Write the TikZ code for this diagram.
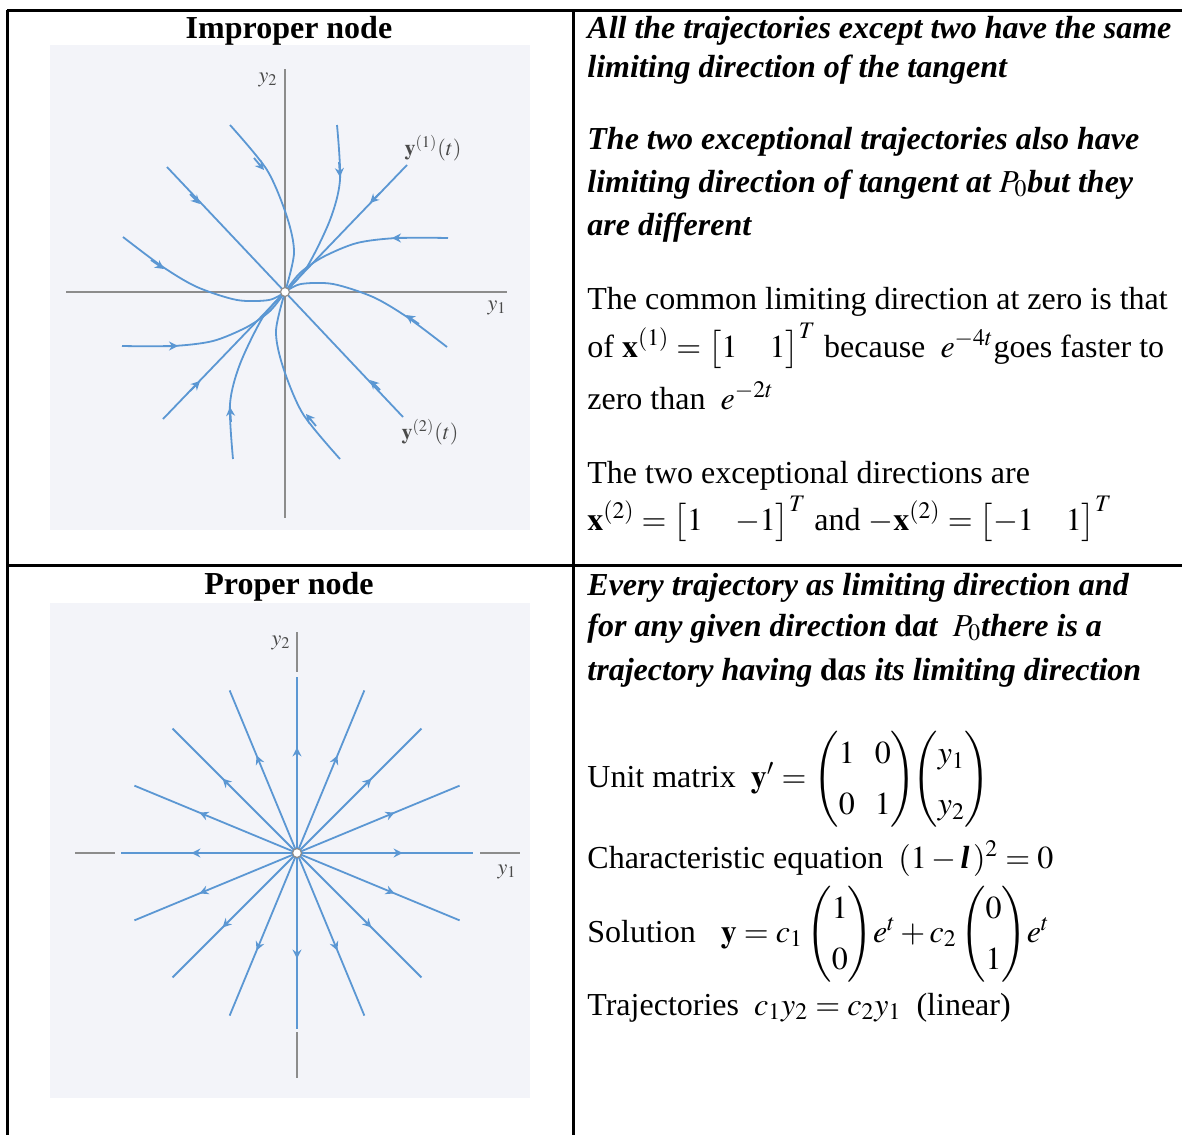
\documentclass[tikz,border=0pt]{standalone}
\usepackage{amsmath}
\usepackage{mathptmx}
\usepackage{fontspec}
\setmainfont{Liberation Serif}
\usetikzlibrary{arrows.meta, decorations.markings}
\definecolor{scanblue}{HTML}{5B97D3}
\definecolor{scanbg}{HTML}{F3F4F9}
\definecolor{axisgray}{HTML}{8C8C8C}
\definecolor{labelgray}{HTML}{4A4A4A}

\begin{document}
\begin{tikzpicture}[
    x=0.5pt, y=-0.5pt,
    >=Stealth,
    tableline/.style={
        draw=black,
        line width=1.5pt
    },
    scan/.style={
        fill=scanbg,
        draw=none
    },
    axis/.style={
        draw=axisgray,
        line width=0.8pt
    },
    traj/.style={
        draw=scanblue,
        line width=0.9pt
    },
    tip/.style={
        draw=scanblue,
        line width=0.9pt,
        -{Stealth[length=4.5pt,width=4.5pt,inset=1.5pt]}
    },
    ray/.style={
        traj,
        postaction={decorate},
        decoration={markings,
            mark=at position 0.6 with {\arrow[scanblue]{Stealth[length=4.5pt,width=4.5pt,inset=1.5pt]}}}
    },
    fixpt/.style={
        circle,
        draw=axisgray,
        fill=white,
        inner sep=0pt,
        minimum size=4.5pt,
        line width=0.6pt
    },
    axislabel/.style={
        text=labelgray,
        font=\fontsize{11}{13}\selectfont
    },
    header/.style={
        font=\fontsize{16}{19}\selectfont\bfseries,
        inner sep=0pt,
        anchor=base
    },
    claim/.style={
        font=\fontsize{16}{19}\selectfont\bfseries\itshape,
        inner sep=0pt,
        anchor=base west
    },
    body/.style={
        font=\fontsize{16}{19}\selectfont,
        inner sep=0pt,
        anchor=base west
    }
]
\useasboundingbox (0,0) rectangle (1182,1135);

% Table rules
\draw[tableline] (7,10) -- (1182,10);
\draw[tableline] (7,565) -- (1182,565);
\draw[tableline] (7,10) -- (7,1135);
\draw[tableline] (573,10) -- (573,1135);

% Headers
\node[header] (improper) at (289,38) {Improper node};
\node[header] (proper) at (289,594) {Proper node};

% Improper node portrait
\fill[scan] (50,45) rectangle (530,530);
\draw[axis] (66,292) -- (507,292);
\draw[axis] (285,69) -- (285,518);
\foreach \r in {0,180} {
  \begin{scope}[shift={(285,292)}, rotate=\r]
    \draw[traj] plot[smooth] coordinates {(-55,-167) (-18,-122) (2,-75) (9,-39) (0,0)};
    \draw[traj] plot[smooth] coordinates {(52,-167) (55,-112) (45,-72) (22,-25) (0,0)};
    \draw[traj] (122,-127) -- (0,0);
    \draw[traj] plot[smooth] coordinates {(163,-54) (112,-54) (72,-49) (38,-35) (15,-19) (0,0)};
    \draw[traj] plot[smooth] coordinates {(162,55) (122,25) (88,5) (48,-8) (16,-8) (0,0)};
    \draw[traj] (118,125) -- (0,0);
    % arrowheads
    \draw[tip] (-31,-134) -- (-21,-122);
    \draw[tip] (54,-130) -- (55,-115);
    \draw[tip] (95,-99) -- (85,-89);
    \draw[tip] (122,-54) -- (107,-54);
    \draw[tip] (134,32) -- (121,23);
    \draw[tip] (95,98) -- (85,88);
  \end{scope}
}
\node[fixpt] (P1) at (285,292) {};
\node[axislabel] (y2a) at (268,80) {$y_2$};
\node[axislabel] (y1a) at (497,308) {$y_1$};
\node[axislabel] (sol1) at (433,148) {$\mathbf{y}^{(1)}(t)$};
\node[axislabel] (sol2) at (430,432) {$\mathbf{y}^{(2)}(t)$};

% Proper node portrait
\fill[scan] (50,603) rectangle (530,1098);
\draw[axis] (75,853) -- (115,853);
\draw[axis] (480,853) -- (520,853);
\draw[axis] (297,632) -- (297,672);
\draw[axis] (297,1032) -- (297,1078);
\foreach \a in {0,22.5,...,337.5}
  \draw[ray] (297,853) -- ++(\a:176);
\node[fixpt] (P2) at (297,853) {};
\node[axislabel] (y2b) at (281,643) {$y_2$};
\node[axislabel] (y1b) at (507,872) {$y_1$};

% Improper node text
\node[claim] (t1) at (587,39) {All the trajectories except two have the same};
\node[claim] (t2) at (587,77) {limiting direction of the tangent};
\node[claim] (t3) at (587,149) {The two exceptional trajectories also have};
\node[claim] (t4) at (587,192) {limiting direction of tangent at $P_0$but they};
\node[claim] (t5) at (587,235) {are different};
\node[body] (t6) at (587,309) {The common limiting direction at zero is that};
\node[body] (t7) at (587,357) {of $\mathbf{x}^{(1)}=\bigl[1\quad 1\bigr]^T$ because $\;e^{-4t}$goes faster to};
\node[body] (t8) at (587,409) {zero than $\;e^{-2t}$};
\node[body] (t9) at (587,483) {The two exceptional directions are};
\node[body] (t10) at (587,530) {$\mathbf{x}^{(2)}=\bigl[1\quad {-1}\bigr]^T$ and $-\mathbf{x}^{(2)}=\bigl[{-1}\quad 1\bigr]^T$};

% Proper node text
\node[claim] (b1) at (587,595) {Every trajectory as limiting direction and};
\node[claim] (b2) at (587,636) {for any given direction $\mathbf{d}$at $\;P_0$there is a};
\node[claim] (b3) at (587,680) {trajectory having $\mathbf{d}$as its limiting direction};
\node[body] (b4) at (587,787) {Unit matrix $\;\mathbf{y}'=\renewcommand{\arraystretch}{1.35}\begin{pmatrix}1&0\\0&1\end{pmatrix}\!\!\begin{pmatrix}y_1\\y_2\end{pmatrix}$};
\node[body] (b5) at (587,868) {Characteristic equation $\;(1-\text{\bfseries\itshape l}\,)^2=0$};
\node[body] (b6) at (587,942) {Solution \; $\mathbf{y}=c_1\renewcommand{\arraystretch}{1.35}\begin{pmatrix}1\\0\end{pmatrix}\!e^t+c_2\begin{pmatrix}0\\1\end{pmatrix}\!e^t$};
\node[body] (b7) at (587,1015) {Trajectories $\;c_1y_2=c_2y_1\;$ (linear)};

\end{tikzpicture}
\end{document}
